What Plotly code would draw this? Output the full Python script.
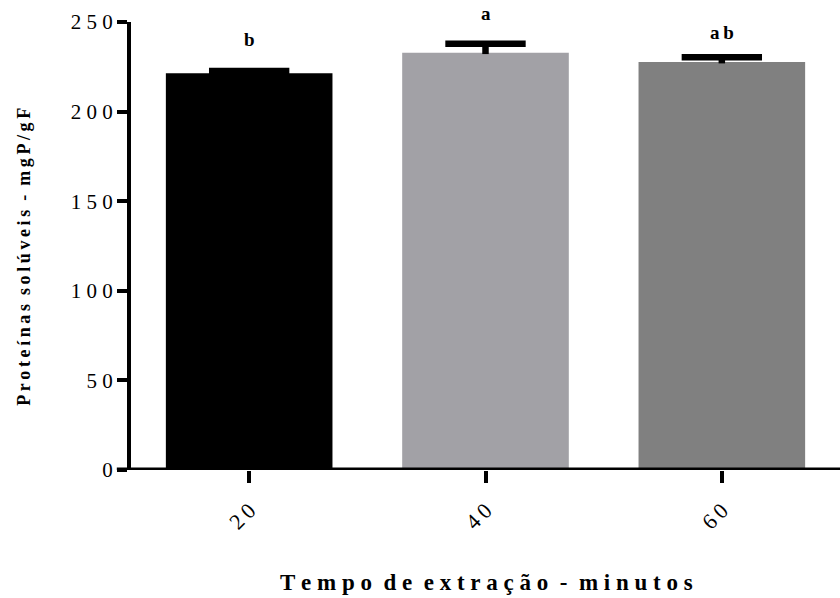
import plotly.graph_objects as go

# ---- data ----
categories = ["20", "40", "60"]
means = [221.4, 232.9, 227.7]
errors = [1.3, 5.0, 2.6]
letters = ["b", "a", "ab"]
letter_y = [240.0, 254.5, 244.0]
bar_colors = ["#000000", "#a2a1a6", "#808080"]
y_ticks = [0, 50, 100, 150, 200, 250]

Y_MAX = 250
PLOT_H = 448
NB = "\u00a0"
THIN = "\u2009"


def spaced(s, gap=NB, wgap=NB * 2):
    return wgap.join(gap.join(list(w)) for w in s.split(" "))


serif = '"Liberation Serif", "Times New Roman", serif'

fig = go.Figure()
xs = list(range(len(categories)))
fig.add_trace(go.Bar(
    x=xs, y=means, width=0.705,
    marker=dict(color=bar_colors, line=dict(width=0)),
    showlegend=False, hoverinfo="skip",
))

# one-sided error bars (upper only): stem + cap
half_cap = 0.17
ex, ey = [], []
for i, (m, e) in enumerate(zip(means, errors)):
    ex += [i, i, None, i - half_cap, i + half_cap, None]
    ey += [m - 0.8, m + e, None, m + e, m + e, None]
fig.add_trace(go.Scatter(
    x=ex, y=ey, mode="lines", line=dict(color="#000", width=6.5),
    showlegend=False, hoverinfo="skip",
))

for i, (t, yv) in enumerate(zip(letters, letter_y)):
    yy = min(yv, Y_MAX)
    fig.add_annotation(x=i, y=yy, xref="x", yref="y", yshift=(yv - yy) * PLOT_H / Y_MAX,
                       text="<b>%s</b>" % spaced(t, gap=THIN),
                       showarrow=False, font=dict(family=serif, size=19, color="#000"),
                       yanchor="middle", xanchor="center")

# x axis line extending slightly left of the y axis
fig.add_shape(type="line", xref="paper", yref="y", x0=-0.02, x1=1.0, y0=0, y1=0,
              line=dict(color="#000", width=5), layer="above")

# axis titles
fig.add_annotation(x=0.502, y=-0.25, xref="paper", yref="paper",
                   text="<b>%s</b>" % spaced("Tempo de extração - minutos"),
                   showarrow=False, font=dict(family=serif, size=23, color="#000"),
                   xanchor="center", yanchor="middle")
fig.add_annotation(x=-0.15, y=0.475, xref="paper", yref="paper",
                   text="<b>%s</b>" % spaced("Proteínas solúveis - mgP/gF", gap=THIN, wgap=NB * 2),
                   textangle=-90,
                   showarrow=False, font=dict(family=serif, size=18, color="#000"),
                   xanchor="center", yanchor="middle")

fig.update_layout(
    width=840, height=598,
    margin=dict(l=131, r=0, t=22, b=128),
    paper_bgcolor="white", plot_bgcolor="white",
    xaxis=dict(
        range=[-0.5, 2.5],
        tickvals=xs,
        ticktext=[THIN.join(list(c)) for c in categories],
        tickangle=-45,
        ticks="outside", ticklen=12, tickwidth=4, tickcolor="#000",
        ticklabelstandoff=6,
        showline=False, showgrid=False, zeroline=False,
        tickfont=dict(family=serif, size=22, color="#000"),
    ),
    yaxis=dict(
        range=[0, Y_MAX],
        tickvals=y_ticks,
        ticktext=[NB.join(list(str(v))) for v in y_ticks],
        ticks="outside", ticklen=10, tickwidth=4, tickcolor="#000",
        showline=True, linewidth=4, linecolor="#000",
        showgrid=False, zeroline=False,
        tickfont=dict(family=serif, size=21, color="#000"),
    ),
)

fig.write_html("out.html")
